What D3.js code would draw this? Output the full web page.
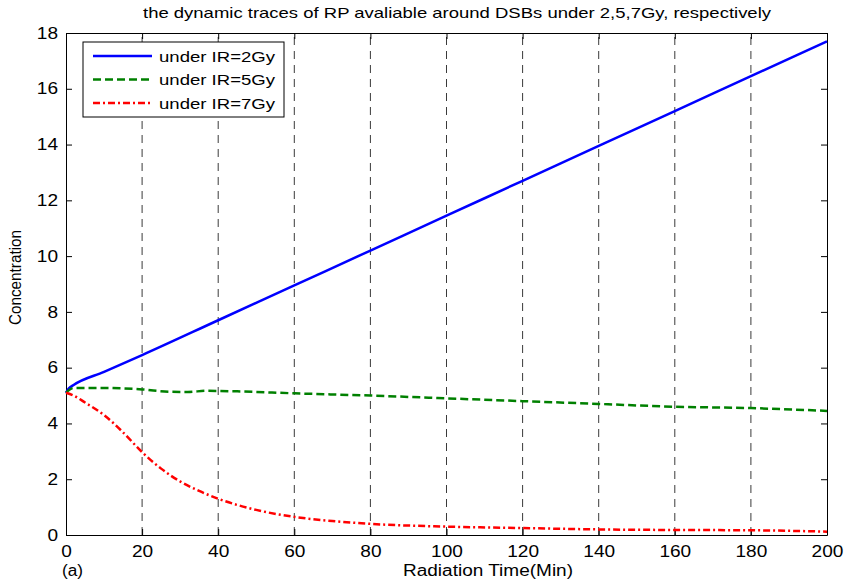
<!DOCTYPE html>
<html>
<head>
<meta charset="utf-8">
<script src="https://cdn.jsdelivr.net/npm/d3@7"></script>
<style>
  body { margin: 0; background: #fff; }
  text { font-family: "Liberation Sans", Arial, sans-serif; }
</style>
</head>
<body>
<svg id="chart" width="847" height="583"></svg>
<script>
//data
const timeIR2 = [0, 0.7, 2, 10, 20, 40, 60, 80, 100, 120, 140, 160, 180, 200];
const concIR2 = [5.1, 5.25, 5.38, 5.85, 6.45, 7.7, 8.95, 10.2, 11.45, 12.7, 13.95, 15.2, 16.45, 17.7];

const timeIR5 = [0, 2, 10, 20, 27, 32, 37, 45, 60, 80, 100, 120, 140, 160, 180, 200];
const concIR5 = [5.1, 5.27, 5.27, 5.22, 5.14, 5.13, 5.17, 5.15, 5.08, 5.0, 4.9, 4.8, 4.7, 4.6, 4.55, 4.45];

const timeIR7 = [0, 2, 5, 10, 15, 20, 25, 30, 35, 40, 50, 60, 70, 80, 100, 120, 140, 160, 180, 200];
const concIR7 = [5.1, 5.0, 4.75, 4.3, 3.68, 2.97, 2.38, 1.92, 1.58, 1.3, 0.9, 0.65, 0.5, 0.4, 0.3, 0.25, 0.2, 0.18, 0.17, 0.12];

const xTicks = [0, 20, 40, 60, 80, 100, 120, 140, 160, 180, 200];
const yTicks = [0, 2, 4, 6, 8, 10, 12, 14, 16, 18];
const legendLabels = ["under IR=2Gy", "under IR=5Gy", "under IR=7Gy"];

const margin = {left: 66, right: 20, top: 33, bottom: 48};
const width = 847, height = 583;

const svg = d3.select("#chart");

const x = d3.scaleLinear().domain([0, 200]).range([margin.left, width - margin.right]);
const y = d3.scaleLinear().domain([0, 18]).range([height - margin.bottom, margin.top]);

//the source image is stretched sideways, so text gets a fixed width
function stretch(sel, w) {
  sel.attr("textLength", w).attr("lengthAdjust", "spacingAndGlyphs");
}

//vertical dashed grid
svg.append("g")
  .selectAll("line")
  .data(xTicks.slice(1, -1))
  .join("line")
    .attr("x1", d => x(d)).attr("x2", d => x(d))
    .attr("y1", y(0)).attr("y2", y(18))
    .attr("stroke", "#3a3a3a")
    .attr("stroke-width", 1)
    .attr("stroke-dasharray", "8,6");

//axes with inward ticks, box style
const tickLen = 6;
const xAxis = svg.append("g")
  .attr("transform", `translate(0,${y(0)})`)
  .call(d3.axisBottom(x).tickValues(xTicks).tickSizeInner(-tickLen).tickSizeOuter(0).tickPadding(9));
svg.append("g")
  .attr("transform", `translate(0,${y(18)})`)
  .call(d3.axisTop(x).tickValues(xTicks).tickSizeInner(-tickLen).tickSizeOuter(0).tickFormat(""));
const yAxis = svg.append("g")
  .attr("transform", `translate(${x(0)},0)`)
  .call(d3.axisLeft(y).tickValues(yTicks).tickSizeInner(-tickLen).tickSizeOuter(0).tickPadding(8));
svg.append("g")
  .attr("transform", `translate(${x(200)},0)`)
  .call(d3.axisRight(y).tickValues(yTicks).tickSizeInner(-tickLen).tickSizeOuter(0).tickFormat(""));

svg.selectAll(".domain").attr("stroke", "#000");
svg.selectAll(".tick line").attr("stroke", "#000");
svg.selectAll(".tick text")
  .attr("fill", "#000")
  .style("font-size", "16px")
  .each(function() { stretch(d3.select(this), this.textContent.length * 10.6); });
xAxis.selectAll(".tick text").attr("dy", "0.8em");

//series lines
const line = d3.line()
  .x(d => x(d[0]))
  .y(d => y(d[1]))
  .curve(d3.curveMonotoneX);

const series = [
  {data: d3.zip(timeIR2, concIR2), color: "#0000ff", dash: null},
  {data: d3.zip(timeIR5, concIR5), color: "#008000", dash: "8,4"},
  {data: d3.zip(timeIR7, concIR7), color: "#ff0000", dash: "7,3,2,3"}
];

svg.append("g")
  .selectAll("path")
  .data(series)
  .join("path")
    .attr("d", d => line(d.data))
    .attr("fill", "none")
    .attr("stroke", d => d.color)
    .attr("stroke-width", 2.5)
    .attr("stroke-dasharray", d => d.dash);

//legend
const legend = svg.append("g").attr("transform", "translate(83,42)");
legend.append("rect")
  .attr("width", 201).attr("height", 75)
  .attr("fill", "#fff")
  .attr("stroke", "#000");
legendLabels.forEach((label, i) => {
  const ly = 14 + i * 23.5;
  legend.append("line")
    .attr("x1", 10).attr("x2", 69)
    .attr("y1", ly).attr("y2", ly)
    .attr("stroke", series[i].color)
    .attr("stroke-width", 2.5)
    .attr("stroke-dasharray", series[i].dash);
  legend.append("text")
    .attr("x", 76).attr("y", ly)
    .attr("dy", "0.36em")
    .style("font-size", "15.5px")
    .text(label)
    .call(stretch, 116);
});

//titles
svg.append("text")
  .attr("x", 143).attr("y", 18)
  .style("font-size", "14.5px")
  .text("the dynamic traces of RP avaliable around DSBs under 2,5,7Gy, respectively")
  .call(stretch, 628);

svg.append("text")
  .attr("x", 403).attr("y", 576)
  .style("font-size", "16px")
  .text("Radiation Time(Min)")
  .call(stretch, 170);

svg.append("text")
  .attr("x", 62).attr("y", 576)
  .style("font-size", "16px")
  .text("(a)")
  .call(stretch, 21);

svg.append("text")
  .attr("transform", `translate(21,${(230 + 325) / 2}) rotate(-90)`)
  .attr("text-anchor", "middle")
  .style("font-size", "17px")
  .text("Concentration")
  .call(stretch, 95);
</script>
</body>
</html>
